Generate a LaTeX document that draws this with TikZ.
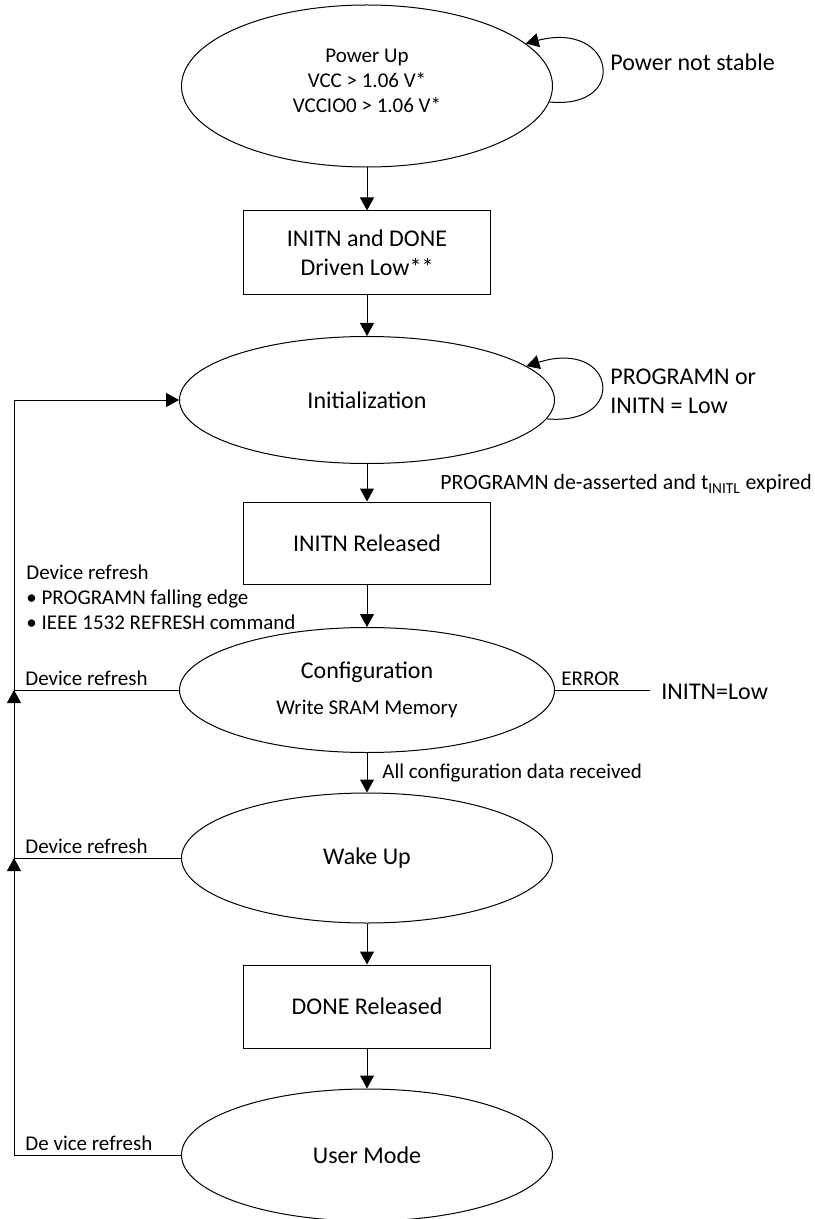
\documentclass[tikz,border=0pt]{standalone}
\usepackage{fontspec}
\setmainfont{Carlito}
\usetikzlibrary{shapes.geometric, arrows.meta}

\tikzset{
    state/.style={draw, ellipse, inner sep=0pt, line width=0.5pt, align=center},
    stepbox/.style={draw, rectangle, inner sep=0pt, line width=0.5pt, align=center,
        minimum width=123.5pt},
    flow/.style={line width=0.5pt, -{Triangle[length=6.5pt,width=7pt]}},
    plain/.style={line width=0.5pt},
    bigtxt/.style={font=\fontsize{12pt}{14.5pt}\selectfont},
    smalltxt/.style={font=\fontsize{10.5pt}{12.5pt}\selectfont},
}

\begin{document}
\begin{tikzpicture}

\useasboundingbox (0,0) rectangle (407pt,-609.5pt);

% Power Up
\node (pwrup) [state,
    smalltxt,
    minimum width=185.5pt,
    minimum height=81pt,
    xshift=183.5pt,
    yshift=-43pt
] {Power Up\\VCC > 1.06 V*\\VCCIO0 > 1.06 V*\\[-7pt]\mbox{}};

\node (pwrnote) [
    bigtxt,
    anchor=west,
    inner sep=0pt,
    xshift=305pt,
    yshift=-31pt
] {Power not stable};

% INITN and DONE
\node (drvlow) [stepbox,
    bigtxt,
    minimum height=42pt,
    xshift=183.5pt,
    yshift=-126.5pt
] {INITN and DONE\\Driven Low**};

% Initialization
\node (init) [state,
    bigtxt,
    minimum width=187.5pt,
    minimum height=63.5pt,
    xshift=183.5pt,
    yshift=-200pt
] {Initialization};

\node (initnote) [
    bigtxt,
    align=left,
    anchor=west,
    inner sep=0pt,
    xshift=305pt,
    yshift=-195.5pt
] {PROGRAMN or\\INITN = Low};

\node (deassert) [
    font=\fontsize{10.9pt}{13pt}\selectfont,
    anchor=west,
    inner sep=0pt,
    xshift=220pt,
    yshift=-242pt
] {PROGRAMN de-asserted and t\textsubscript{INITL} expired};

% INITN Released
\node (initrel) [stepbox,
    bigtxt,
    minimum height=41pt,
    xshift=183.5pt,
    yshift=-271.5pt
] {INITN Released};

\node (refnote) [
    smalltxt,
    align=left,
    anchor=north west,
    inner sep=0pt,
    xshift=13pt,
    yshift=-282.5pt
] {Device refresh\\• PROGRAMN falling edge\\• IEEE 1532 REFRESH command};

% Configuration
\node (config) [state,
    bigtxt,
    minimum width=187.5pt,
    minimum height=62.5pt,
    xshift=183.5pt,
    yshift=-345pt
] {Configuration\\[3.5pt]{\fontsize{10.5pt}{12.5pt}\selectfont Write SRAM Memory}};

\node (initnlow) [
    bigtxt,
    anchor=west,
    inner sep=0pt,
    xshift=330.5pt,
    yshift=-346pt
] {INITN=Low};

\node (cfgdata) [
    smalltxt,
    anchor=west,
    inner sep=0pt,
    xshift=191pt,
    yshift=-386.5pt
] {All configuration data received};

% Wake Up
\node (wakeup) [state,
    bigtxt,
    minimum width=185.5pt,
    minimum height=65pt,
    xshift=183.5pt,
    yshift=-429pt
] {Wake Up};

% DONE Released
\node (donerel) [stepbox,
    bigtxt,
    minimum height=41.5pt,
    xshift=183.5pt,
    yshift=-503.25pt
] {DONE Released};

% User Mode
\node (usermode) [state,
    bigtxt,
    minimum width=185.5pt,
    minimum height=66pt,
    xshift=183.5pt,
    yshift=-577.5pt
] {User Mode};

%-------------------------------------
% main flow
\draw [flow] (pwrup.south) -- (drvlow.north);
\draw [flow] (drvlow.south) -- (init.north);
\draw [flow] (init.south) -- (initrel.north);
\draw [flow] (initrel.south) -- (config.north);
\draw [flow] (config.south) -- (wakeup.north);
\draw [flow] (wakeup.south) -- (donerel.north);
\draw [flow] (donerel.south) -- (usermode.north);

% self loops
\draw [flow] (pwrup.-5) .. controls +(40pt,-4pt) and +(45pt,11.5pt) .. (pwrup.15);
\draw [flow] (init.-6) .. controls +(41.5pt,-3.5pt) and +(44.5pt,14pt) .. (init.12);

% error
\draw [plain] (config.east) -- ([xshift=-5.5pt]initnlow.west |- config.east);
\node (errlbl) [smalltxt, anchor=base west, inner sep=0pt, xshift=3pt, yshift=2.5pt]
    at (config.east) {ERROR};

%-------------------------------------
% device refresh paths
\coordinate (fbx) at (7pt,0);

\draw [flow] (usermode.west) -- (usermode.west -| fbx) -- (wakeup.west -| fbx);
\draw [flow] (wakeup.west) -- (wakeup.west -| fbx) -- (config.west -| fbx);
\draw [flow] (config.west) -- (config.west -| fbx) -- (init.west -| fbx) -- (init.west);

\node (umref) [smalltxt, anchor=base west, inner sep=0pt, xshift=5.5pt, yshift=2.5pt]
    at (usermode.west -| fbx) {De vice refresh};
\node (wuref) [smalltxt, anchor=base west, inner sep=0pt, xshift=5.5pt, yshift=2.5pt]
    at (wakeup.west -| fbx) {Device refresh};
\node (cfgref) [smalltxt, anchor=base west, inner sep=0pt, xshift=5.5pt, yshift=2.5pt]
    at (config.west -| fbx) {Device refresh};

\end{tikzpicture}
\end{document}
